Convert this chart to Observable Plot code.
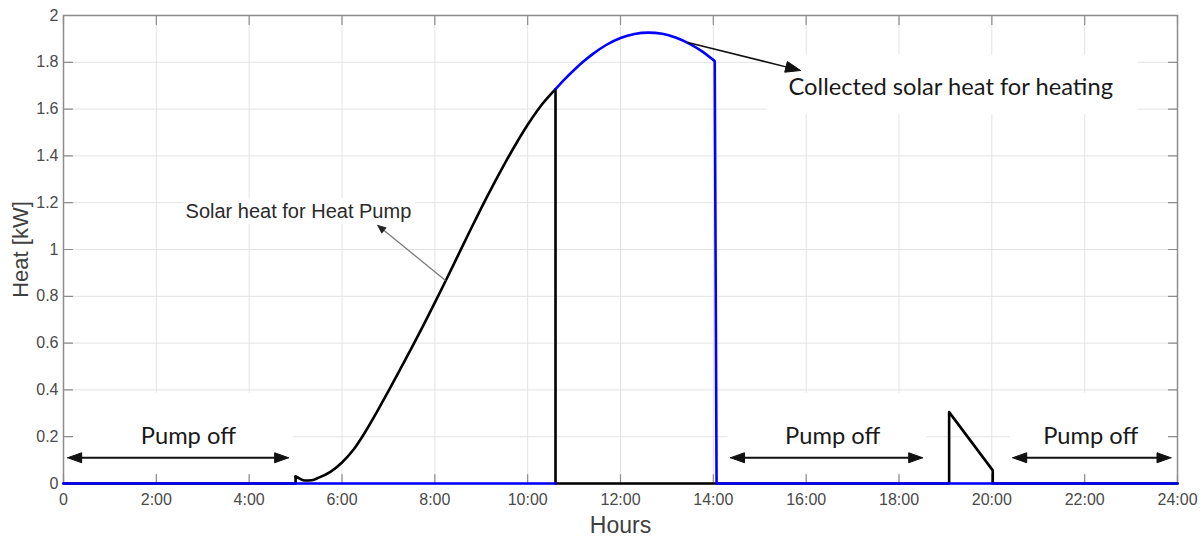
<!DOCTYPE html>
<html><head><meta charset="utf-8">
<script src="https://cdn.jsdelivr.net/npm/d3@7"></script>
<script src="https://cdn.jsdelivr.net/npm/@observablehq/plot@0.6"></script>
<style>html,body{margin:0;padding:0;background:#fff}#chart svg{display:block}</style>
</head><body><div id="chart"></div>
<script>
// ---- tick values & labels ----
const hourTicks = [0, 2, 4, 6, 8, 10, 12, 14, 16, 18, 20, 22, 24];
const hourLabels = ["0", "2:00", "4:00", "6:00", "8:00", "10:00", "12:00", "14:00", "16:00", "18:00", "20:00", "22:00", "24:00"];
const heatTicks = [0, 0.2, 0.4, 0.6, 0.8, 1, 1.2, 1.4, 1.6, 1.8, 2];
const heatLabels = ["0", "0.2", "0.4", "0.6", "0.8", "1", "1.2", "1.4", "1.6", "1.8", "2"];

// ---- series: solar heat for heat pump (black) ----
// smooth rising part
const hpRiseHours = [5.0, 5.08, 5.2, 5.35, 5.5, 5.75, 6.0, 6.25, 6.5, 6.75, 7.0, 7.25, 7.5, 7.75, 8.0, 8.25, 8.5, 8.75, 9.0, 9.25, 9.5, 9.75, 10.0, 10.25, 10.6];
const hpRiseHeat  = [0.03, 0.022, 0.013, 0.014, 0.025, 0.05, 0.09, 0.145, 0.22, 0.305, 0.395, 0.487, 0.58, 0.675, 0.773, 0.873, 0.975, 1.077, 1.177, 1.273, 1.365, 1.452, 1.533, 1.605, 1.685];
// on/off steps (NaN = break)
const hpStepHours = [0, 5.0, 5.0, NaN, 10.6, 10.6, 19.08, 19.08, 20.02, 20.02, 24];
const hpStepHeat  = [0, 0, 0.03, NaN, 1.685, 0, 0, 0.305, 0.056, 0, 0];

// ---- series: collected solar heat for heating (blue) ----
const colRiseHours = [10.6, 10.8, 11.0, 11.2, 11.4, 11.7, 12.0, 12.3, 12.6, 12.9, 13.2, 13.5, 13.75, 14.0];
const colRiseHeat  = [1.685, 1.728, 1.767, 1.803, 1.835, 1.875, 1.904, 1.921, 1.927, 1.922, 1.905, 1.878, 1.848, 1.81];
const colStepHours = [0, 10.6, NaN, 14.0, 14.03, 14.07, 24];
const colStepHeat  = [0, 0, NaN, 1.81, 1.805, 0, 0];

// ---- annotations ----
const pumpOffText = ["Pump off", "Pump off", "Pump off"];
const pumpOffLabelHour = [2.69, 16.57, 22.13];
const pumpOffFrom = [0.09, 14.37, 20.45];
const pumpOffTo = [4.85, 18.51, 23.86];
const pumpOffArrowHeat = 0.11;
const pumpOffLabelHeat = 0.2;

const collectedText = "Collected solar heat for heating";
const collectedLabel = [15.62, 1.694];
const collectedArrow = [13.45, 1.885, 15.88, 1.765];
const collectedBox = [15.17, 23.15, 1.577, 1.83];

const solarText = "Solar heat for Heat Pump";
const solarLabel = [2.63, 1.16];
const solarArrow = [8.23, 0.868, 6.77, 1.103];
const solarBox = [2.59, 7.59, 1.107, 1.218];

// ---- layout ----
const W = 1203, H = 542, ML = 63, MR = 26, MT = 15, MB = 59;
const xDomain = [0, 24], yDomain = [0, 2];

const rows = (hs, vs) => hs.map((h, i) => ({hour: h, heat: vs[i]}));
const hpRise = rows(hpRiseHours, hpRiseHeat), hpStep = rows(hpStepHours, hpStepHeat);
const colRise = rows(colRiseHours, colRiseHeat), colStep = rows(colStepHours, colStepHeat);

const xs = Plot.scale({x: {domain: xDomain, range: [ML, W - MR]}});
const ys = Plot.scale({y: {domain: yDomain, range: [H - MB, MT]}});

// arrow head triangle (in data units) with tip at (x2,y2)
function head(id, x1, y1, x2, y2, len, half) {
  const px1 = xs.apply(x1), py1 = ys.apply(y1), px2 = xs.apply(x2), py2 = ys.apply(y2);
  const dx = px2 - px1, dy = py2 - py1, L = Math.hypot(dx, dy);
  const ux = dx / L, uy = dy / L, nx = -uy, ny = ux;
  const bx = px2 - ux * len, by = py2 - uy * len;
  const pts = [[px2, py2], [bx + nx * half, by + ny * half], [bx - nx * half, by - ny * half], [px2, py2]];
  return {tri: pts.map(([a, b]) => ({id, hour: xs.invert(a), heat: ys.invert(b)})),
          base: {hour: xs.invert(bx + ux * 1), heat: ys.invert(by + uy * 1)}};
}

const blackHeads = [], blackShafts = [];
pumpOffFrom.forEach((f, i) => {
  const t = pumpOffTo[i], y = pumpOffArrowHeat;
  const hR = head("p" + i + "r", f, y, t, y, 14, 5);
  const hL = head("p" + i + "l", t, y, f, y, 14, 5);
  blackHeads.push(...hR.tri, ...hL.tri);
  blackShafts.push({x1: hL.base.hour, y1: y, x2: hR.base.hour, y2: y, w: 2});
});
{
  const [a, b, c, d] = collectedArrow;
  const h = head("col", a, b, c, d, 15, 5.5);
  blackHeads.push(...h.tri);
  blackShafts.push({x1: a, y1: b, x2: h.base.hour, y2: h.base.heat, w: 1.5});
}
const grayHead = head("sol", ...solarArrow, 8, 3.5);

const boxes = [
  ...pumpOffFrom.map((f, i) => ({x1: f - 0.06, x2: pumpOffTo[i] + 0.1, y1: 0.04, y2: 0.385})),
  {x1: collectedBox[0], x2: collectedBox[1], y1: collectedBox[2], y2: collectedBox[3]},
  {x1: solarBox[0], x2: solarBox[1], y1: solarBox[2], y2: solarBox[3]}
];

const axisColor = "#8c8c8c";
const gridColor = "#e3e3e3";
const calibriLike = "Lato, 'Open Sans', sans-serif";

const chart = Plot.plot({
  width: W, height: H,
  marginLeft: ML, marginRight: MR, marginTop: MT, marginBottom: MB,
  x: {domain: xDomain},
  y: {domain: yDomain},
  style: {fontFamily: "'Liberation Sans', Arial, sans-serif", fontSize: "16px", color: "#4a4a4a", background: "#fff"},
  marks: [
    Plot.gridX(hourTicks, {stroke: gridColor, strokeOpacity: 1}),
    Plot.gridY(heatTicks, {stroke: gridColor, strokeOpacity: 1}),
    Plot.rect(boxes, {x1: "x1", x2: "x2", y1: "y1", y2: "y2", fill: "#fff"}),
    // inward tick marks on all four sides
    Plot.vector(hourTicks, {x: d => d, y: yDomain[0], length: 9, rotate: 0, anchor: "start", r: 0, stroke: axisColor, strokeWidth: 1.2}),
    Plot.vector(hourTicks, {x: d => d, y: yDomain[1], length: 9, rotate: 180, anchor: "start", r: 0, stroke: axisColor, strokeWidth: 1.2}),
    Plot.vector(heatTicks, {x: xDomain[0], y: d => d, length: 9, rotate: 90, anchor: "start", r: 0, stroke: axisColor, strokeWidth: 1.2}),
    Plot.vector(heatTicks, {x: xDomain[1], y: d => d, length: 9, rotate: -90, anchor: "start", r: 0, stroke: axisColor, strokeWidth: 1.2}),
    Plot.axisX(hourTicks, {tickFormat: d => hourLabels[hourTicks.indexOf(d)], tickSize: 0, tickPadding: 10, label: null, fontSize: 16}),
    Plot.axisY(heatTicks, {tickFormat: d => heatLabels[heatTicks.indexOf(d)], tickSize: 0, tickPadding: 5, label: null, fontSize: 16}),
    Plot.frame({stroke: axisColor, strokeWidth: 1.5}),
    Plot.text(["Heat [kW]"], {frameAnchor: "left", dx: -43, rotate: -90, textAnchor: "middle", lineAnchor: "middle", fontSize: 22, fill: "#404040"}),
    Plot.text(["Hours"], {frameAnchor: "bottom", dy: 42, textAnchor: "middle", lineAnchor: "middle", fontSize: 23, fill: "#404040"}),
    // data lines
    Plot.line(hpStep, {x: "hour", y: "heat", stroke: "#000", strokeWidth: 2.6}),
    Plot.line(hpRise, {x: "hour", y: "heat", curve: "monotone-x", stroke: "#000", strokeWidth: 2.6}),
    Plot.line(colStep, {x: "hour", y: "heat", stroke: "#0000ff", strokeWidth: 2.6}),
    Plot.line(colRise, {x: "hour", y: "heat", curve: "monotone-x", stroke: "#0000ff", strokeWidth: 2.6}),
    // arrows
    Plot.link(blackShafts, {x1: "x1", y1: "y1", x2: "x2", y2: "y2", stroke: "#111", strokeWidth: d => d.w}),
    Plot.line(blackHeads, {x: "hour", y: "heat", z: "id", fill: "#111", stroke: "#111", strokeWidth: 1}),
    Plot.link([{x1: solarArrow[0], y1: solarArrow[1], x2: grayHead.base.hour, y2: grayHead.base.heat}], {x1: "x1", y1: "y1", x2: "x2", y2: "y2", stroke: "#7a7a7a", strokeWidth: 1.3}),
    Plot.line(grayHead.tri, {x: "hour", y: "heat", z: "id", fill: "#222", stroke: "#222", strokeWidth: 0.8}),
    // annotation texts
    Plot.text(pumpOffText, {x: (d, i) => pumpOffLabelHour[i], y: pumpOffLabelHeat, fontFamily: calibriLike, fontSize: 23.7, fill: "#1a1a1a"}),
    Plot.text([collectedText], {x: collectedLabel[0], y: collectedLabel[1], textAnchor: "start", fontFamily: calibriLike, fontSize: 23.7, fill: "#1a1a1a"}),
    Plot.text([solarText], {x: solarLabel[0], y: solarLabel[1], textAnchor: "start", fontFamily: "'Liberation Sans', Arial, sans-serif", fontSize: 20, fill: "#2a2a2a"})
  ]
});
document.getElementById("chart").appendChild(chart);
</script>
</body></html>
